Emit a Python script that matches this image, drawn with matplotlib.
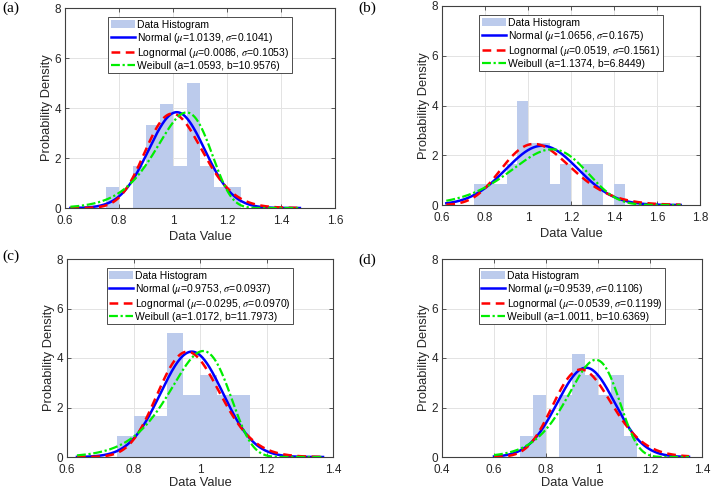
import numpy as np
import matplotlib
matplotlib.use("Agg")
import matplotlib.pyplot as plt

plt.rcParams['font.family'] = ['Liberation Sans', 'DejaVu Sans']
plt.rcParams['mathtext.fontset'] = 'stix'

# ---------------- data ----------------
panel_labels = ["(a)", "(b)", "(c)", "(d)"]
n_samples = 24
bin_width = 0.05

bins_a = [0.75, 0.80, 0.85, 0.90, 0.95, 1.00, 1.05, 1.10, 1.15, 1.20]
counts_a = [1, 0, 2, 4, 5, 2, 6, 2, 1, 1]
bins_b = [0.75, 0.80, 0.85, 0.90, 0.95, 1.00, 1.05, 1.10, 1.15, 1.20, 1.25, 1.30, 1.35, 1.40]
counts_b = [1, 1, 1, 2, 5, 3, 3, 1, 2, 0, 2, 2, 0, 1]
bins_c = [0.75, 0.80, 0.85, 0.90, 0.95, 1.00, 1.05, 1.10]
counts_c = [1, 2, 2, 6, 3, 4, 3, 3]
bins_d = [0.70, 0.75, 0.80, 0.85, 0.90, 0.95, 1.00, 1.05, 1.10]
counts_d = [1, 3, 0, 3, 5, 4, 3, 4, 1]

normal_mu = [1.0139, 1.0656, 0.9753, 0.9539]
normal_sigma = [0.1041, 0.1675, 0.0937, 0.1106]
logn_mu = [0.0086, 0.0519, -0.0295, -0.0539]
logn_sigma = [0.1053, 0.1561, 0.0970, 0.1199]
weib_a = [1.0593, 1.1374, 1.0172, 1.0011]
weib_b = [10.9576, 6.8449, 11.7973, 10.6369]

curve_xmin = [0.62, 0.62, 0.63, 0.60]
curve_xmax = [1.47, 1.71, 1.37, 1.35]

xlims = [(0.6, 1.6), (0.6, 1.8), (0.6, 1.4), (0.4, 1.4)]
xticks = [[0.6, 0.8, 1.0, 1.2, 1.4, 1.6],
          [0.6, 0.8, 1.0, 1.2, 1.4, 1.6, 1.8],
          [0.6, 0.8, 1.0, 1.2, 1.4],
          [0.4, 0.6, 0.8, 1.0, 1.2, 1.4]]
yticks = [0, 2, 4, 6, 8]

all_bins = [bins_a, bins_b, bins_c, bins_d]
all_counts = [counts_a, counts_b, counts_c, counts_d]

# ---------------- layout (pixels) ----------------
W, H = 711, 492
boxes = [(65, 8, 335, 208), (442, 6, 700, 205), (67, 259, 333, 457), (442, 259, 702, 457)]
xlabel_pads = [3, 3, 1, 1]
label_pos = [(2, 2), (358, 2), (2, 250), (358, 254)]

fig = plt.figure(figsize=(W / 100, H / 100), dpi=100)

hist_color = '#bccbec'
axis_color = '#404040'

for i in range(4):
    l, t, r, b = boxes[i]
    ax = fig.add_axes([l / W, 1 - b / H, (r - l) / W, (b - t) / H])
    edges = np.array(all_bins[i])
    dens = np.array(all_counts[i]) / (n_samples * bin_width)
    h0 = ax.bar(edges, dens, width=bin_width, align='edge', color=hist_color,
                edgecolor='none', label='Data Histogram', zorder=2)

    x = np.linspace(curve_xmin[i], curve_xmax[i], 400)
    mu, sg = normal_mu[i], normal_sigma[i]
    y_n = np.exp(-(x - mu) ** 2 / (2 * sg ** 2)) / (sg * np.sqrt(2 * np.pi))
    lm, ls = logn_mu[i], logn_sigma[i]
    y_l = np.exp(-(np.log(x) - lm) ** 2 / (2 * ls ** 2)) / (x * ls * np.sqrt(2 * np.pi))
    wa, wb = weib_a[i], weib_b[i]
    y_w = (wb / wa) * (x / wa) ** (wb - 1) * np.exp(-(x / wa) ** wb)

    h1, = ax.plot(x, y_n, color='#0000ff', lw=1.8, zorder=3,
                  label=f'Normal ($\\mu$={mu:.4f}, $\\sigma$={sg:.4f})')
    h2, = ax.plot(x, y_l, color='#ff0000', lw=1.8, ls=(0, (3.5, 2.2)), zorder=4,
                  label=f'Lognormal ($\\mu$={lm:.4f}, $\\sigma$={ls:.4f})')
    h3, = ax.plot(x, y_w, color='#00ee00', lw=1.6, ls=(0, (4, 1.2, 1, 1.2)), zorder=5,
                  label=f'Weibull (a={wa:.4f}, b={wb:.4f})')

    ax.set_xlim(*xlims[i])
    ax.set_ylim(0, 8)
    ax.set_xticks(xticks[i])
    ax.set_xticklabels([f'{v:g}' for v in xticks[i]])
    ax.set_yticks(yticks)
    ax.grid(True, color='#e3e3e3', lw=0.7, zorder=0)
    ax.set_axisbelow(True)
    for sp in ax.spines.values():
        sp.set_color(axis_color)
        sp.set_linewidth(0.8)
    ax.tick_params(direction='in', length=3, width=0.6, colors=axis_color,
                   labelsize=8.5, labelcolor='#262626', top=True, right=True,
                   labeltop=False, labelright=False)
    ax.tick_params(axis='x', pad=5)
    ax.tick_params(axis='y', pad=3)
    ax.set_xlabel('Data Value', fontsize=9.3, color='#262626', labelpad=xlabel_pads[i])
    ax.set_ylabel('Probability Density', fontsize=9.3, color='#262626', labelpad=1)

    leg = ax.legend(handles=[h0, h1, h2, h3], loc='upper center',
                    bbox_to_anchor=(0.5, 0.965), fontsize=7.5,
                    handlelength=2.3, handletextpad=0.2, labelspacing=0.1,
                    borderpad=0.25, borderaxespad=0.2, fancybox=False, framealpha=1)
    leg.get_frame().set_edgecolor('#303030')
    leg.get_frame().set_linewidth(0.6)

    fig.text(label_pos[i][0] / W, 1 - label_pos[i][1] / H, panel_labels[i],
             family='Liberation Serif', fontsize=11, va='top', ha='left')

fig.savefig('out.png', dpi=100)
